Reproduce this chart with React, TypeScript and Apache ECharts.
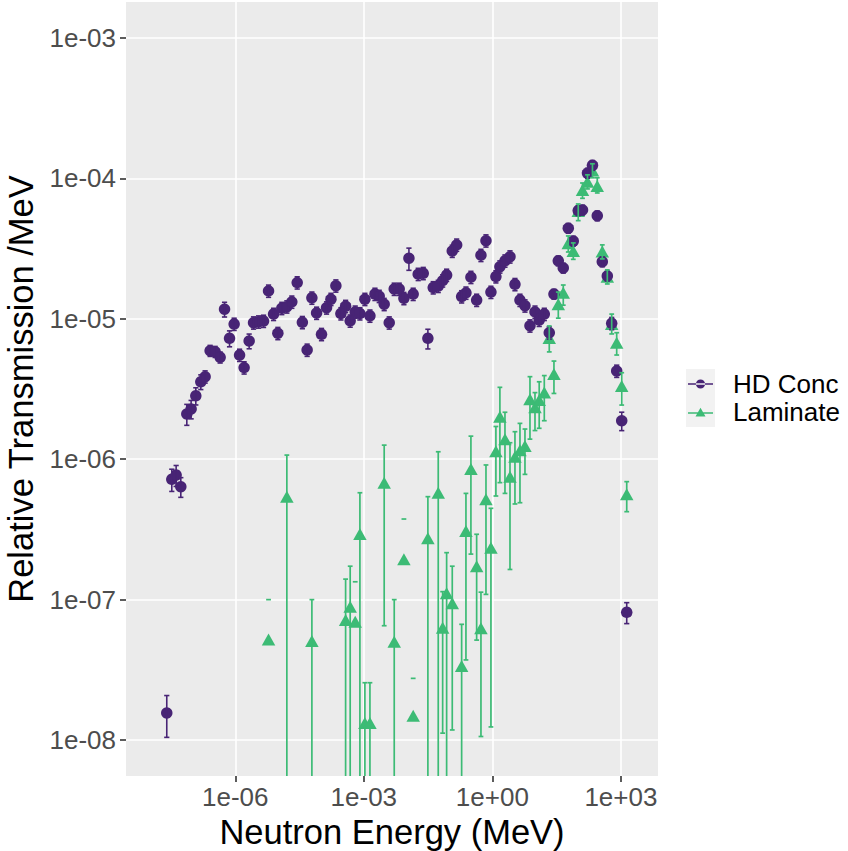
import { useEffect, useRef } from 'react';
import * as echarts from 'echarts';

// ---------- data ----------
// neutron energy of each bin, MeV
const energyMeV = [
  2.52e-8, 3.30e-8, 4.17e-8, 5.36e-8, 7.40e-8, 9.33e-8, 1.20e-7, 1.57e-7, 1.98e-7, 2.59e-7,
  3.39e-7, 4.44e-7, 5.62e-7, 7.35e-7, 9.42e-7, 1.26e-6, 1.61e-6, 2.11e-6, 2.67e-6, 3.50e-6,
  4.57e-6, 5.98e-6, 7.83e-6, 9.86e-6, 1.22e-5, 1.60e-5, 2.09e-5, 2.79e-5, 3.68e-5, 4.76e-5,
  6.14e-5, 7.91e-5, 1.03e-4, 1.35e-4, 1.71e-4, 2.23e-4, 2.92e-4, 3.76e-4, 4.81e-4, 6.30e-4,
  8.11e-4, 1.06e-3, 1.39e-3, 1.82e-3, 2.29e-3, 2.99e-3, 3.92e-3, 5.13e-3, 6.70e-3, 8.63e-3,
  1.13e-2, 1.42e-2, 1.86e-2, 2.44e-2, 3.13e-2, 4.17e-2, 5.46e-2, 6.92e-2, 8.57e-2, 0.116,
  0.147, 0.192, 0.242, 0.316, 0.430, 0.542, 0.710, 0.927, 1.21, 1.50,
  1.97, 2.58, 3.37, 4.41, 5.77, 7.55, 9.89, 12.4, 16.3, 21.3,
  27.4, 34.6, 45.2, 59.2, 77.4, 101, 127, 166, 217, 281,
  368, 482, 610, 798, 1045, 1368,
];

// HD Conc relative transmission /MeV
const hdConc = [
  1.56e-8, 7.19e-7, 7.71e-7, 6.37e-7, 2.10e-6, 2.28e-6, 2.83e-6, 3.56e-6, 3.87e-6, 5.93e-6,
  5.83e-6, 5.32e-6, 1.17e-5, 7.26e-6, 9.18e-6, 5.52e-6, 4.49e-6, 6.95e-6, 9.38e-6, 9.53e-6,
  9.64e-6, 1.58e-5, 1.08e-5, 7.89e-6, 1.19e-5, 1.22e-5, 1.32e-5, 1.81e-5, 9.44e-6, 6.00e-6,
  1.41e-5, 1.10e-5, 7.76e-6, 1.20e-5, 1.38e-5, 1.72e-5, 1.09e-5, 1.23e-5, 9.68e-6, 1.12e-5,
  1.09e-5, 1.38e-5, 1.05e-5, 1.50e-5, 1.45e-5, 1.27e-5, 9.38e-6, 1.63e-5, 1.63e-5, 1.40e-5,
  2.70e-5, 1.50e-5, 2.08e-5, 2.11e-5, 7.26e-6, 1.67e-5, 1.71e-5, 1.87e-5, 2.05e-5, 3.04e-5,
  3.36e-5, 1.44e-5, 1.53e-5, 1.98e-5, 1.36e-5, 2.84e-5, 3.60e-5, 1.55e-5, 2.00e-5, 2.35e-5,
  2.59e-5, 2.77e-5, 1.76e-5, 1.36e-5, 1.24e-5, 8.93e-6, 1.12e-5, 9.80e-6, 1.08e-5, 7.96e-6,
  1.50e-5, 2.59e-5, 2.30e-5, 4.42e-5, 3.58e-5, 5.90e-5, 5.96e-5, 1.09e-4, 1.24e-4, 5.42e-5,
  2.55e-5, 2.02e-5, 9.29e-6, 4.25e-6, 1.88e-6, 8.13e-8,
];

// HD Conc relative uncertainty (fraction of the value)
const hdConcRelErr = [
  0.33, 0.18, 0.17, 0.16, 0.17, 0.15, 0.14, 0.12, 0.10, 0.09,
  0.09, 0.09, 0.12, 0.13, 0.10, 0.10, 0.10, 0.12, 0.10, 0.10,
  0.10, 0.10, 0.10, 0.10, 0.10, 0.10, 0.10, 0.10, 0.10, 0.10,
  0.10, 0.10, 0.10, 0.10, 0.10, 0.10, 0.10, 0.10, 0.10, 0.10,
  0.10, 0.10, 0.10, 0.10, 0.10, 0.10, 0.10, 0.10, 0.10, 0.10,
  0.18, 0.10, 0.10, 0.10, 0.16, 0.10, 0.10, 0.10, 0.10, 0.10,
  0.10, 0.10, 0.10, 0.10, 0.10, 0.10, 0.10, 0.10, 0.10, 0.10,
  0.10, 0.10, 0.10, 0.10, 0.10, 0.10, 0.10, 0.10, 0.10, 0.10,
  0.08, 0.08, 0.08, 0.08, 0.08, 0.08, 0.08, 0.08, 0.08, 0.08,
  0.08, 0.08, 0.10, 0.10, 0.15, 0.17,
];

// Laminate: energies where it was measured, values and error-bar ends
const laminateEnergyMeV = [
  5.98e-6, 1.60e-5, 6.14e-5, 3.76e-4, 4.81e-4, 6.30e-4, 8.11e-4, 1.06e-3, 1.39e-3, 2.99e-3,
  5.13e-3, 8.63e-3, 1.42e-2, 3.13e-2, 5.46e-2, 6.92e-2, 8.57e-2, 0.116,
  0.192, 0.242, 0.316, 0.430, 0.542, 0.710, 0.927, 1.21, 1.50, 1.97,
  2.58, 3.37, 4.41, 5.77, 7.55, 9.89, 12.4, 16.3, 21.3, 27.4,
  34.6, 45.2, 59.2, 77.4, 101, 127, 166, 217, 281, 368,
  482, 610, 798, 1045, 1368,
];
const laminate = [
  5.21e-8, 5.41e-7, 5.07e-8, 7.16e-8, 8.89e-8, 6.97e-8, 2.93e-7, 1.32e-8, 1.32e-8, 6.81e-7,
  5.01e-8, 1.94e-7, 1.49e-8, 2.74e-7, 5.77e-7, 6.31e-8, 1.11e-7, 9.42e-8,
  3.37e-8, 3.08e-7, 8.51e-7, 1.73e-7, 6.25e-8, 5.18e-7, 2.34e-7, 1.14e-6, 2.01e-6, 1.39e-6,
  7.50e-7, 1.04e-6, 1.16e-6, 1.24e-6, 2.67e-6, 2.34e-6, 2.64e-6, 2.98e-6, 7.30e-6, 4.05e-6,
  1.27e-5, 1.53e-5, 3.45e-5, 3.04e-5, 5.86e-5, 8.26e-5, 9.48e-5, 1.14e-4, 8.83e-5, 3.01e-5,
  1.99e-5, 9.18e-6, 6.76e-6, 3.32e-6, 5.62e-7,
];
const laminateUpper = [
  1.00e-7, 1.07e-6, 1.00e-7, 1.40e-7, 1.73e-7, 1.34e-7, 5.77e-7, 2.56e-8, 2.56e-8, 1.26e-6,
  1.00e-7, 3.75e-7, 2.75e-8, 5.41e-7, 1.13e-6, 1.14e-7, 2.16e-7, 1.73e-7,
  6.67e-8, 5.71e-7, 1.46e-6, 2.92e-7, 1.13e-7, 9.10e-7, 4.47e-7, 1.71e-6, 3.25e-6, 2.16e-6,
  1.31e-6, 1.57e-6, 1.80e-6, 1.64e-6, 3.87e-6, 2.98e-6, 3.56e-6, 3.94e-6, 8.89e-6, 5.00e-6,
  1.55e-5, 1.74e-5, 3.89e-5, 3.47e-5, 6.57e-5, 9.27e-5, 1.06e-4, 1.27e-4, 1.01e-4, 3.36e-5,
  2.23e-5, 1.08e-5, 7.96e-6, 4.13e-6, 6.92e-7,
];
// 0 = lower end at zero (bar runs off the bottom), null = lower end negative (not drawable)
const laminateLower: (number | null)[] = [
  null, 0, 0, 0, 0, null, 0, 0, 0, 6.52e-8,
  0, null, null, 0, 0, 1.12e-8, 0, 1.18e-8,
  0, 3.72e-8, 2.11e-7, 5.15e-8, 1.06e-8, 1.09e-7, 1.24e-8, 5.47e-7, 6.81e-7, 5.71e-7,
  1.64e-7, 4.80e-7, 4.90e-7, 7.80e-7, 1.39e-6, 1.60e-6, 1.66e-6, 1.88e-6, 5.81e-6, 2.94e-6,
  1.01e-5, 1.25e-5, 2.99e-5, 2.65e-5, 5.00e-5, 7.21e-5, 8.41e-5, 1.01e-4, 7.87e-5, 2.67e-5,
  1.77e-5, 7.80e-6, 5.52e-6, 2.43e-6, 4.23e-7,
];

const xTickExponents = [-6, -3, 0, 3];
const yTickExponents = [-8, -7, -6, -5, -4, -3];

// ---------- styling ----------
const PURPLE = '#482475';
const GREEN = '#3CBB75';
const FONT = 'Liberation Sans, Arial, Helvetica, sans-serif';
const X_MIN = -8.55;
const X_MAX = 3.866;
const Y_MIN = -8.256;
const Y_MAX = -2.744;

const sci = (v: number) => {
  const n = Math.round(v);
  return '1e' + (n < 0 ? '-' : '+') + String(Math.abs(n)).padStart(2, '0');
};

function errorBarRenderer(color: string, cap: number, lw: number) {
  return (params: any, api: any) => {
    const x = api.value(0);
    const mode = api.value(3);
    const top = api.coord([x, api.value(2)]);
    const cs = params.coordSys;
    const style = { stroke: color, lineWidth: lw, fill: 'none' };
    const children: any[] = [
      { type: 'line', shape: { x1: top[0] - cap, y1: top[1], x2: top[0] + cap, y2: top[1] }, style },
    ];
    if (mode === 0) {
      const bot = api.coord([x, api.value(1)]);
      children.push({ type: 'line', shape: { x1: top[0], y1: top[1], x2: top[0], y2: bot[1] }, style });
      children.push({ type: 'line', shape: { x1: bot[0] - cap, y1: bot[1], x2: bot[0] + cap, y2: bot[1] }, style });
    } else if (mode === 1) {
      children.push({ type: 'line', shape: { x1: top[0], y1: top[1], x2: top[0], y2: cs.y + cs.height }, style });
    }
    return { type: 'group', children };
  };
}

const ICON_CIRCLE =
  'path://M0,0h0.01v0.01h-0.01z M0,11h0.01v-0.01h-0.01z M0,4.7H25V6.3H0Z M7.9,5.5A4.6,4.6 0 1,0 17.1,5.5A4.6,4.6 0 1,0 7.9,5.5Z';
const ICON_TRIANGLE =
  'path://M0,0h0.01v0.01h-0.01z M0,11h0.01v-0.01h-0.01z M0,5.7H25V7.3H0Z M12.5,1.2L17.5,10L7.5,10Z';

export default function App() {
  const ref = useRef<HTMLDivElement>(null);

  useEffect(() => {
    if (!ref.current) return;
    const chart = echarts.init(ref.current, undefined, { renderer: 'svg' });

    const hdPoints = energyMeV.map((e, i) => [Math.log10(e), Math.log10(hdConc[i])]);
    const hdBars = energyMeV.map((e, i) => [
      Math.log10(e),
      Math.log10(hdConc[i] * (1 - hdConcRelErr[i])),
      Math.log10(hdConc[i] * (1 + hdConcRelErr[i])),
      0,
    ]);
    const lamPoints = laminateEnergyMeV.map((e, i) => [Math.log10(e), Math.log10(laminate[i])]);
    const lamBars = laminateEnergyMeV.map((e, i) => {
      const lo = laminateLower[i];
      const mode = lo === null ? 2 : lo <= 0 ? 1 : 0;
      return [Math.log10(e), mode === 0 ? Math.log10(lo as number) : Y_MIN, Math.log10(laminateUpper[i]), mode];
    });

    const axisCommon = {
      type: 'value' as const,
      axisLine: { show: false, onZero: false },
      axisTick: { show: true, length: 6, lineStyle: { color: '#333333', width: 1.6 } },
      splitLine: { show: true, lineStyle: { color: '#FFFFFF', width: 1.6 } },
      minorSplitLine: { show: false },
      nameLocation: 'middle' as const,
      nameTextStyle: { fontFamily: FONT, fontSize: 34.5, color: '#000000' },
    };

    chart.setOption({
      animation: false,
      backgroundColor: '#FFFFFF',
      textStyle: { fontFamily: FONT },
      grid: {
        left: 126,
        right: 190,
        top: 2,
        bottom: 75,
        show: true,
        backgroundColor: '#EBEBEB',
        borderWidth: 0,
        containLabel: false,
        outerBoundsMode: 'none',
      },
      xAxis: {
        ...axisCommon,
        min: X_MIN,
        max: X_MAX,
        name: 'Neutron Energy (MeV)',
        nameGap: 32,
        axisTick: { ...axisCommon.axisTick, customValues: xTickExponents },
        axisLabel: {
          customValues: xTickExponents,
          formatter: sci,
          fontFamily: FONT,
          fontSize: 26,
          color: '#4D4D4D',
          margin: 8,
        },
      },
      yAxis: {
        ...axisCommon,
        min: Y_MIN,
        max: Y_MAX,
        name: 'Relative Transmission /MeV',
        nameGap: 74,
        axisTick: { ...axisCommon.axisTick, customValues: yTickExponents },
        axisLabel: {
          customValues: yTickExponents,
          formatter: sci,
          fontFamily: FONT,
          fontSize: 26,
          color: '#4D4D4D',
          margin: 10,
        },
      },
      legend: {
        orient: 'vertical',
        left: 688,
        top: 371,
        padding: 0,
        itemWidth: 25,
        itemHeight: 11,
        itemGap: 2,
        selectedMode: false,
        textStyle: { fontFamily: FONT, fontSize: 26, color: '#000000', lineHeight: 26, padding: [0, 0, 0, 15] },
        data: [
          { name: 'HD Conc', icon: ICON_CIRCLE },
          { name: 'Laminate', icon: ICON_TRIANGLE },
        ],
      },
      graphic: [
        {
          type: 'rect',
          z: -10,
          shape: { x: 686, y: 369, width: 29, height: 58 },
          style: { fill: '#F2F2F2' },
        },
      ],
      series: [
        {
          name: 'Laminate',
          type: 'scatter',
          data: lamPoints,
          symbol: 'triangle',
          symbolSize: [13.5, 12],
          itemStyle: { color: GREEN, opacity: 1 },
          z: 2,
          silent: true,
        },
        {
          name: 'HD Conc',
          type: 'scatter',
          data: hdPoints,
          symbol: 'circle',
          symbolSize: 11.5,
          itemStyle: { color: PURPLE, opacity: 1 },
          z: 3,
          silent: true,
        },
        {
          name: 'HD Conc bars',
          type: 'custom',
          data: hdBars,
          encode: { x: 0, y: [1, 2] },
          renderItem: errorBarRenderer(PURPLE, 2.6, 1.6),
          z: 4,
          silent: true,
        },
        {
          name: 'Laminate bars',
          type: 'custom',
          data: lamBars,
          encode: { x: 0, y: [1, 2] },
          renderItem: errorBarRenderer(GREEN, 2.4, 1.7),
          z: 5,
          silent: true,
          clip: true,
        },
      ],
    });

    return () => chart.dispose();
  }, []);

  return (
    <div
      ref={ref}
      style={{ position: 'fixed', left: 0, top: 0, width: 848, height: 851 }}
    />
  );
}
